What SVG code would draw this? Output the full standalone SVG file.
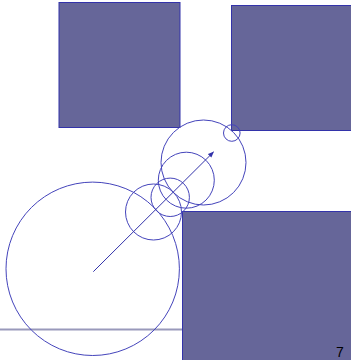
<svg xmlns="http://www.w3.org/2000/svg" width="351" height="360" viewBox="0 0 351 360">
<style>
.blk{fill:#666699;stroke:#3333aa;stroke-width:1}
.c{fill:none;stroke:#4444bb;stroke-width:1}
</style>
<defs>
<marker id="ah" viewBox="0 0 10 10" refX="9" refY="5" markerWidth="6" markerHeight="6" orient="auto" markerUnits="userSpaceOnUse">
<path d="M0,1 L10,5 L0,9 z" fill="#3333aa"/>
</marker>
</defs>
<rect width="351" height="360" fill="#fff"/>
<g id="block1"><rect class="blk" x="59" y="2.5" width="121" height="125"/></g>
<g id="block2"><rect class="blk" x="231.5" y="5.5" width="125" height="125"/></g>
<g id="block3"><rect class="blk" x="182.5" y="211.5" width="175" height="155"/></g>
<line x1="0" y1="329.5" x2="182" y2="329.5" stroke="#9999bb" stroke-width="2"/>
<g id="circles">
<circle class="c" cx="92.7" cy="268.8" r="86.7"/>
<circle class="c" cx="203.5" cy="162.5" r="42.5"/>
<circle class="c" cx="231.8" cy="133" r="8.3"/>
<circle class="c" cx="186.3" cy="180.2" r="28"/>
<circle class="c" cx="170.2" cy="197.3" r="19.2"/>
<circle class="c" cx="153.5" cy="212" r="28"/>
</g>
<g id="connectors">
<line x1="93.3" y1="271.7" x2="213.5" y2="152" stroke="#3333aa" stroke-width="1" marker-end="url(#ah)"/>
</g>
<text x="336" y="356.5" font-family="Liberation Sans, Arial, sans-serif" font-size="14" fill="#000">7</text>
</svg>
